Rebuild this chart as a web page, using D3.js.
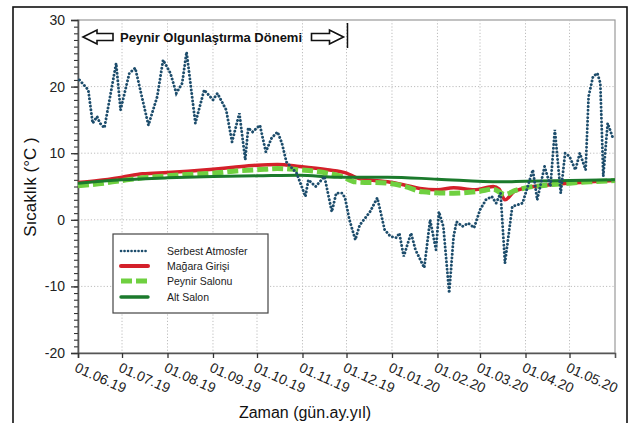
<!DOCTYPE html>
<html>
<head>
<meta charset="utf-8">
<script src="https://cdn.jsdelivr.net/npm/d3@7"></script>
<style>
  body { margin: 0; background: #fff; }
  svg { display: block; font-family: Arial, "Liberation Sans", sans-serif; }
</style>
</head>
<body>
<svg id="paper" width="630" height="423"></svg>
<script>
// series (dates are day.month as in the source)
const atmDates = ["2019-06-02","2019-06-08","2019-06-11","2019-06-14","2019-06-16","2019-06-19","2019-06-27","2019-06-30",
  "2019-07-06","2019-07-10","2019-07-19","2019-07-25","2019-07-29","2019-08-03","2019-08-07","2019-08-11","2019-08-14",
  "2019-08-20","2019-08-26","2019-09-01","2019-09-04","2019-09-10","2019-09-14","2019-09-19","2019-09-23","2019-09-25",
  "2019-09-28","2019-10-03","2019-10-07","2019-10-11","2019-10-15","2019-10-18","2019-10-21","2019-10-28","2019-11-03",
  "2019-11-05","2019-11-10","2019-11-16","2019-11-21","2019-11-24","2019-11-28","2019-11-30","2019-12-03","2019-12-07",
  "2019-12-10","2019-12-17","2019-12-22","2019-12-27","2019-12-31","2020-01-04","2020-01-06","2020-01-09","2020-01-14",
  "2020-01-17","2020-01-23","2020-01-27","2020-01-31","2020-02-02","2020-02-05","2020-02-09","2020-02-12","2020-02-14",
  "2020-02-18","2020-02-22","2020-02-26","2020-03-01","2020-03-05","2020-03-09","2020-03-12","2020-03-15","2020-03-18",
  "2020-03-23","2020-03-30","2020-04-06","2020-04-09","2020-04-14","2020-04-18","2020-04-21","2020-04-25","2020-04-28",
  "2020-05-01","2020-05-05","2020-05-08","2020-05-12","2020-05-14","2020-05-17","2020-05-20","2020-05-22","2020-05-24",
  "2020-05-27","2020-05-31"];
const atmValues = [21, 19.5, 14.5, 15.5, 14.5, 13.8, 23.5, 16.5,
  22, 22.8, 14.2, 18.5, 24, 22, 19, 20.5, 25.2,
  14.5, 19.5, 18, 19, 16.5, 11.7, 16, 9, 13.8,
  13.2, 14.2, 10.2, 12.3, 13.2, 11.5, 8.7, 7, 3.5,
  6, 5, 6.5, 1.2, 4, 4, 3.3, 0, -3,
  -0.8, 1.2, 3.3, -1.5, -2.5, -2.7, -2, -5.5, -2,
  -4.5, -7.2, 0, -4.5, 1.2, -1, -11, -2.5, -0.3,
  -1, -0.5, -1.2, 1.5, 3, 3.5, 2.5, 4, -6.5,
  2, 2.5, 7.5, 3, 8, 5, 13.5, 4, 10,
  9.5, 7.5, 10, 7.5, 18.5, 21.5, 22, 20.5, 6.5,
  14.5, 12];

const caveDates = ["2019-06-01","2019-06-15","2019-07-01","2019-07-15","2019-08-01","2019-08-15","2019-09-01","2019-09-15",
  "2019-10-01","2019-10-15","2019-10-30","2019-11-18","2019-12-01","2019-12-08","2019-12-20","2019-12-29",
  "2020-01-10","2020-01-20","2020-02-01","2020-02-12","2020-02-26","2020-03-10","2020-03-14","2020-03-18",
  "2020-03-24","2020-04-01","2020-04-15","2020-05-01","2020-05-15","2020-06-01"];
const caveValues = [5.6, 5.9, 6.4, 6.9, 7.1, 7.3, 7.6, 7.9,
  8.2, 8.3, 8.0, 7.5, 7.0, 6.3, 5.9, 5.7,
  5.2, 4.7, 4.5, 4.8, 4.5, 5.0, 4.6, 3.0,
  4.2, 4.8, 5.2, 5.5, 5.7, 5.9];

const cheeseDates = ["2019-06-01","2019-06-15","2019-07-01","2019-07-15","2019-08-01","2019-08-15","2019-09-01","2019-09-15",
  "2019-10-01","2019-10-15","2019-10-30","2019-11-18","2019-11-28","2019-12-07","2019-12-29",
  "2020-01-10","2020-01-22","2020-02-12","2020-03-01","2020-03-10","2020-03-18","2020-03-25",
  "2020-04-01","2020-04-15","2020-05-01","2020-05-15","2020-06-01"];
const cheeseValues = [5.1, 5.4, 5.9, 6.3, 6.6, 6.8, 7.0, 7.3,
  7.5, 7.7, 7.5, 7.0, 6.5, 5.7, 5.5,
  5.0, 4.2, 4.0, 4.3, 4.6, 3.8, 4.4,
  4.8, 5.2, 5.5, 5.7, 5.9];

const lowerDates = ["2019-06-01","2019-07-01","2019-08-01","2019-09-01","2019-10-01","2019-10-30","2019-11-25",
  "2019-12-29","2020-02-01","2020-03-15","2020-04-01","2020-05-01","2020-06-01"];
const lowerValues = [5.5, 6.0, 6.3, 6.5, 6.6, 6.7, 6.4, 6.4, 6.1, 5.7, 5.8, 5.9, 6.0];

const monthTicks = ["2019-06-01","2019-07-01","2019-08-01","2019-09-01","2019-10-01","2019-11-01","2019-12-01",
  "2020-01-01","2020-02-01","2020-03-01","2020-04-01","2020-05-01"];
const yTicks = [-20, -10, 0, 10, 20, 30];
const legendNames = ["Serbest Atmosfer", "Mağara Girişi", "Peynir Salonu", "Alt Salon"];
const periodEnd = "2019-12-01";

const parse = d3.timeParse("%Y-%m-%d");
const fmt = d3.timeFormat("%d.%m.%y");

const svg = d3.select("#paper");
const pLeft = 78, pRight = 615, pTop = 20, pBottom = 353;

const x = d3.scaleTime().domain([parse("2019-06-01"), parse("2020-06-01")]).range([pLeft, pRight]);
const y = d3.scaleLinear().domain([-20, 30]).range([pBottom, pTop]);

// outer frame
svg.append("rect").attr("x", 13).attr("y", 7).attr("width", 614).attr("height", 430)
  .attr("fill", "none").attr("stroke", "#111").attr("stroke-width", 1.6);

// plot box
svg.append("rect").attr("x", pLeft).attr("y", pTop).attr("width", pRight - pLeft).attr("height", pBottom - pTop)
  .attr("fill", "none").attr("stroke", "#999").attr("stroke-width", 1.2);

// grid
const grid = svg.append("g").attr("stroke", "#bdbdbd").attr("stroke-dasharray", "1.2,2").attr("stroke-width", 1);
monthTicks.slice(1).forEach(d => {
  grid.append("line").attr("x1", x(parse(d))).attr("x2", x(parse(d))).attr("y1", pTop).attr("y2", pBottom);
});
yTicks.slice(1, -1).forEach(v => {
  grid.append("line").attr("x1", pLeft).attr("x2", pRight).attr("y1", y(v)).attr("y2", y(v));
});

// y axis with minor ticks
const yMinor = svg.append("g").attr("transform", `translate(${pLeft},0)`)
  .call(d3.axisLeft(y).ticks(50).tickSize(4).tickFormat(""));
yMinor.select(".domain").remove();
yMinor.selectAll("line").attr("stroke", "#333").attr("stroke-width", 1.1);
const yAxis = svg.append("g").attr("transform", `translate(${pLeft},0)`)
  .call(d3.axisLeft(y).tickValues(yTicks).tickSize(7).tickPadding(6).tickFormat(d => String(d)));
yAxis.select(".domain").attr("stroke", "#555").attr("stroke-width", 1.6);
yAxis.selectAll("line").attr("stroke", "#333").attr("stroke-width", 1.3);
yAxis.selectAll("text").attr("font-size", 14).attr("fill", "#222").attr("font-family", "Arial, 'Liberation Sans', sans-serif");

// x axis
const xAxis = svg.append("g").attr("transform", `translate(0,${pBottom})`)
  .call(d3.axisBottom(x).tickValues(monthTicks.map(parse)).tickSize(5).tickFormat(fmt));
xAxis.select(".domain").attr("stroke", "#555").attr("stroke-width", 1.6);
xAxis.selectAll("line").attr("stroke", "#333").attr("stroke-width", 1.3);
xAxis.selectAll("text")
  .attr("font-size", 14).attr("fill", "#222").attr("font-family", "Arial, 'Liberation Sans', sans-serif")
  .attr("text-anchor", "start").attr("x", 3).attr("y", 8).attr("dy", "0.75em")
  .attr("transform", "rotate(24)");

// axis titles
svg.append("text").attr("transform", "translate(36,187) rotate(-90)")
  .attr("text-anchor", "middle").attr("font-size", 17).attr("fill", "#111").text("Sıcaklık (°C )");
svg.append("text").attr("x", 305).attr("y", 418)
  .attr("text-anchor", "middle").attr("font-size", 16).attr("fill", "#111").text("Zaman (gün.ay.yıl)");

// lines
const line = (dates, vals, curve) => d3.line()
  .x((d, i) => x(parse(dates[i])))
  .y((d, i) => y(vals[i]))
  .curve(curve)(vals);

svg.append("path").attr("d", line(caveDates, caveValues, d3.curveMonotoneX))
  .attr("fill", "none").attr("stroke", "#d4202a").attr("stroke-width", 3.5);
svg.append("path").attr("d", line(cheeseDates, cheeseValues, d3.curveMonotoneX))
  .attr("fill", "none").attr("stroke", "#6fd040").attr("stroke-width", 5)
  .attr("stroke-dasharray", "11,4");
svg.append("path").attr("d", line(lowerDates, lowerValues, d3.curveMonotoneX))
  .attr("fill", "none").attr("stroke", "#1b7a2c").attr("stroke-width", 3);
svg.append("path").attr("d", line(atmDates, atmValues, d3.curveLinear))
  .attr("fill", "none").attr("stroke", "#1d4d6c").attr("stroke-width", 2.9)
  .attr("stroke-linecap", "round").attr("stroke-dasharray", "0.1,3.6");

// ripening period annotation
const ay = 37;
const xs = x(parse("2019-06-01")), xe = x(parse(periodEnd));
function arrow(tip, base, dir) {
  // hollow block arrow, dir -1 points left, 1 points right
  const head = 14, sh = 3.5, hh = 7;
  const hb = tip - dir * head;
  return `M${tip},${ay} L${hb},${ay - hh} L${hb},${ay - sh} L${base},${ay - sh} L${base},${ay + sh} L${hb},${ay + sh} L${hb},${ay + hh} Z`;
}
svg.append("path").attr("d", arrow(xs + 5, xs + 35, -1))
  .attr("fill", "#fff").attr("stroke", "#111").attr("stroke-width", 1.6);
svg.append("path").attr("d", arrow(xe - 3, xe - 35, 1))
  .attr("fill", "#fff").attr("stroke", "#111").attr("stroke-width", 1.6);
svg.append("line").attr("x1", xe + 1).attr("x2", xe + 1).attr("y1", 23).attr("y2", 48)
  .attr("stroke", "#111").attr("stroke-width", 1.5);
svg.append("text").attr("x", xs + 42).attr("y", ay + 4.5).attr("font-size", 13).attr("font-weight", "bold")
  .attr("fill", "#111").text("Peynir Olgunlaştırma Dönemi");

// legend
const lg = svg.append("g");
lg.append("rect").attr("x", 113).attr("y", 234).attr("width", 155).attr("height", 79)
  .attr("fill", "#fff").attr("stroke", "#444").attr("stroke-width", 1.2);
const legStyles = [
  {c: "#1d4d6c", w: 2.6, dash: "0.1,3.4", cap: "round"},
  {c: "#d4202a", w: 4, dash: null, cap: "round"},
  {c: "#6fd040", w: 5, dash: "11,4", cap: "butt"},
  {c: "#1b7a2c", w: 3.4, dash: null, cap: "round"}
];
const legY = [251, 266, 281, 297];
legendNames.forEach((n, i) => {
  const s = legStyles[i];
  lg.append("line").attr("x1", 121).attr("x2", 148).attr("y1", legY[i]).attr("y2", legY[i])
    .attr("stroke", s.c).attr("stroke-width", s.w).attr("stroke-linecap", s.cap)
    .attr("stroke-dasharray", s.dash);
  lg.append("text").attr("x", 167).attr("y", legY[i] + 3.5).attr("font-size", 10.5).attr("fill", "#222").text(n);
});
</script>
</body>
</html>
